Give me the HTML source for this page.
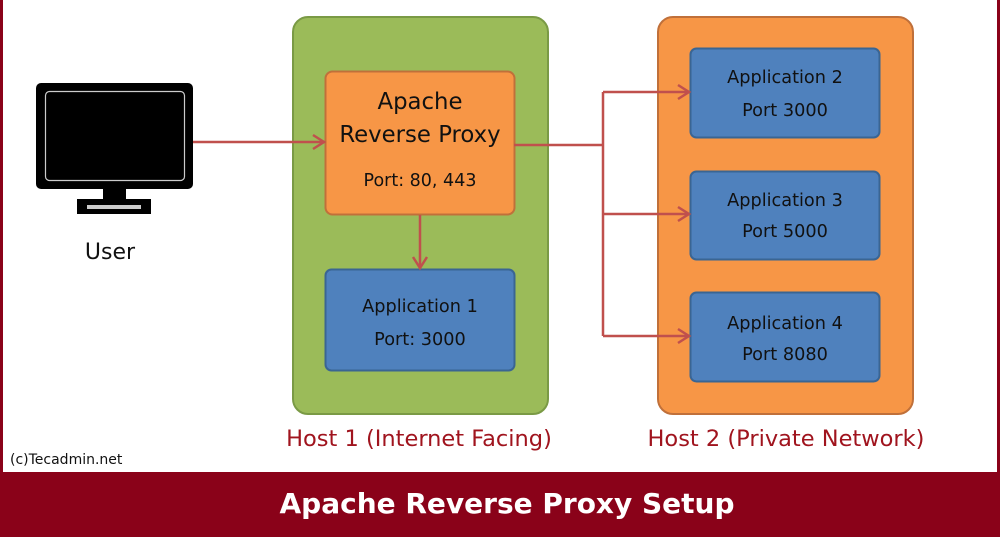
<!DOCTYPE html>
<html><head><meta charset="utf-8"><style>
html,body{margin:0;padding:0;width:1000px;height:537px;overflow:hidden;background:#fff}
svg text{font-family:"DejaVu Sans","Liberation Sans",sans-serif}
</style></head><body>
<svg width="1000" height="537" viewBox="0 0 1000 537" xmlns="http://www.w3.org/2000/svg">
<rect x="0" y="0" width="1000" height="537" fill="#8a0219"/>
<rect x="3" y="0" width="994" height="472" fill="#fff"/>
<!-- monitor -->
<rect x="36" y="83" width="157" height="106" rx="5" fill="#000"/>
<rect x="45.5" y="91.5" width="139" height="89" rx="4" fill="none" stroke="#ccc" stroke-width="1.2"/>
<rect x="103" y="188" width="23" height="12" fill="#000"/>
<rect x="77" y="199" width="74" height="15" fill="#000"/>
<rect x="87" y="205" width="54" height="4" fill="#ccc"/>
<text x="110" y="259" font-size="22" text-anchor="middle" fill="#111">User</text>
<!-- host boxes -->
<rect x="293" y="17" width="255" height="397" rx="15" fill="#9bbb59" stroke="#7a9a45" stroke-width="2"/>
<rect x="658" y="17" width="255" height="397" rx="15" fill="#f79646" stroke="#c0703a" stroke-width="2"/>
<!-- proxy -->
<rect x="325.5" y="71.5" width="189" height="143" rx="7" fill="#f79646" stroke="#c0703a" stroke-width="2"/>
<text x="420" y="109" font-size="22.8" text-anchor="middle" fill="#111">Apache</text>
<text x="420" y="142" font-size="22.8" text-anchor="middle" fill="#111">Reverse Proxy</text>
<text x="420" y="186" font-size="17.5" text-anchor="middle" fill="#111">Port: 80, 443</text>
<!-- apps -->
<g fill="#4f81bd" stroke="#3a6593" stroke-width="2">
<rect x="325.5" y="269.5" width="189" height="101" rx="6"/>
<rect x="690.5" y="48.5" width="189" height="89" rx="6"/>
<rect x="690.5" y="171.5" width="189" height="88" rx="6"/>
<rect x="690.5" y="292.5" width="189" height="89" rx="6"/>
</g>
<g font-size="17.7" text-anchor="middle" fill="#111">
<text x="420" y="312">Application 1</text>
<text x="420" y="345">Port: 3000</text>
<text x="785" y="83">Application 2</text>
<text x="785" y="116">Port 3000</text>
<text x="785" y="206">Application 3</text>
<text x="785" y="237">Port 5000</text>
<text x="785" y="329">Application 4</text>
<text x="785" y="360">Port 8080</text>
</g>
<!-- connectors -->
<g stroke="#c0504d" stroke-width="2.5" fill="none">
<line x1="193" y1="142" x2="324" y2="142"/>
<polyline points="313,135 324,142 313,149"/>
<line x1="514" y1="145" x2="603" y2="145"/>
<line x1="603" y1="92" x2="603" y2="336"/>
<line x1="603" y1="92" x2="689" y2="92"/>
<line x1="603" y1="214" x2="689" y2="214"/>
<line x1="603" y1="336" x2="689" y2="336"/>
<polyline points="678,85 689,92 678,99"/>
<polyline points="678,207 689,214 678,221"/>
<polyline points="678,329 689,336 678,343"/>
<line x1="420" y1="215" x2="420" y2="268"/>
<polyline points="413,257 420,268 427,257"/>
</g>
<text x="419" y="446" font-size="22.5" text-anchor="middle" fill="#a0141e">Host 1 (Internet Facing)</text>
<text x="786" y="446" font-size="22.5" text-anchor="middle" fill="#a0141e">Host 2 (Private Network)</text>
<text x="10" y="464" font-size="14" fill="#111">(c)Tecadmin.net</text>
<text x="507" y="513" font-size="28" font-weight="bold" text-anchor="middle" fill="#fff">Apache Reverse Proxy Setup</text>
</svg>
</body></html>
